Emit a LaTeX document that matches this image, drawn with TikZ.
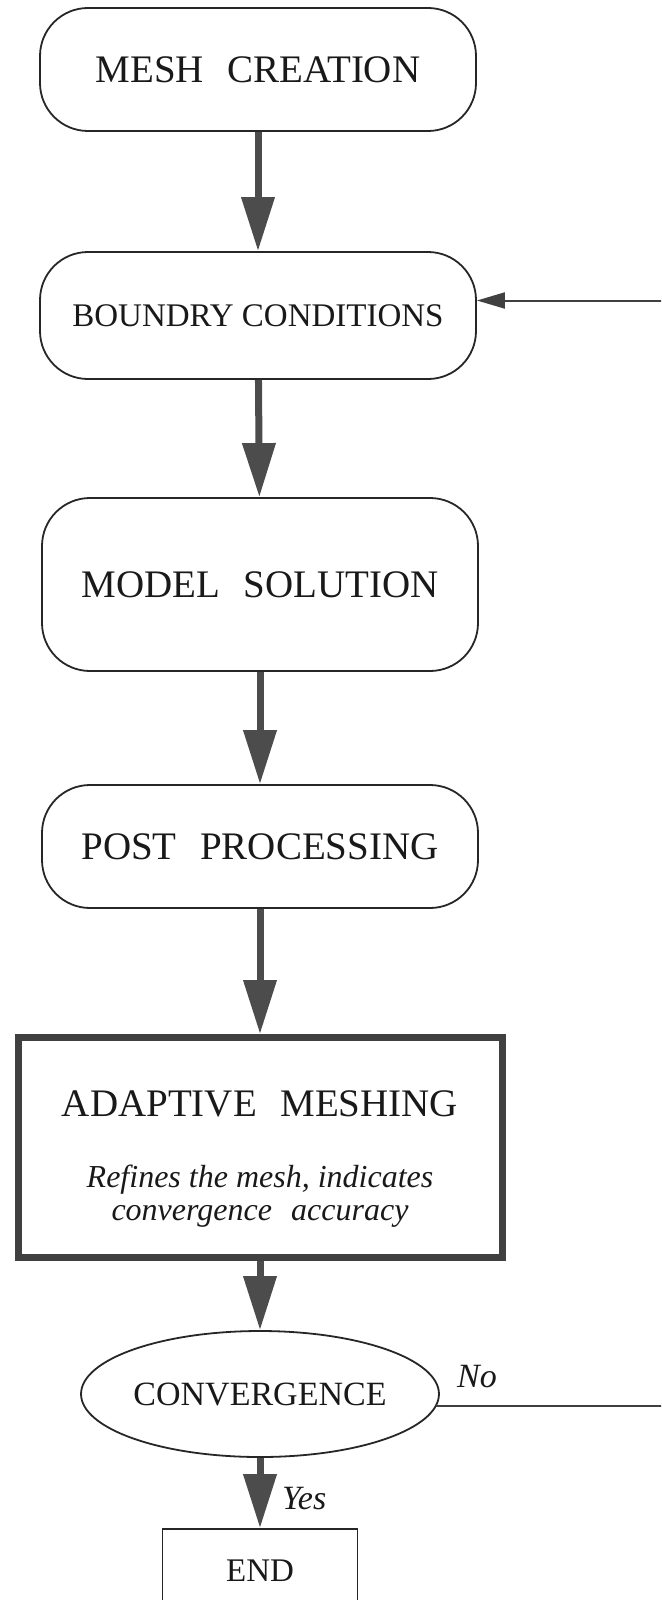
\documentclass[tikz,border=0pt]{standalone}
\usepackage{fontspec}
\setmainfont{Liberation Serif}
\usetikzlibrary{shapes,arrows.meta}
\newcommand{\capsbig}{\fontsize{19.5}{23}\selectfont}
\newcommand{\capssmall}{\fontsize{16.5}{20}\selectfont}
\newcommand{\notefont}{\fontsize{16}{16.5}\selectfont\itshape}
\newcommand{\wordgap}{\hspace{0.6em}}
\tikzstyle{block} = [rectangle, draw=black!85, line width=0.9pt, text=black!90,
    rounded corners=24pt, minimum width=218pt, text centered, inner sep=0pt]
\tikzstyle{bigblock} = [rectangle, draw=black!75, line width=3.5pt, text=black!90,
    minimum width=242pt, minimum height=110pt, align=center, inner sep=0pt]
\tikzstyle{decision} = [ellipse, draw=black!85, line width=0.9pt, text=black!90,
    minimum width=171pt, minimum height=63pt, inner sep=0pt]
\tikzstyle{terminal} = [rectangle, draw=black!85, line width=0.9pt, text=black!90,
    minimum width=97.5pt, minimum height=42pt]
\tikzstyle{line} = [draw, line width=3.5pt, black!70, -{Triangle[length=27pt,width=16pt]}]
\tikzstyle{feedback} = [draw, line width=1pt, black!75, -{Triangle[length=14pt,width=8pt]}]
\tikzstyle{answer} = [font=\fontsize{17}{20}\selectfont\itshape, text=black!90]

\begin{document}
\begin{tikzpicture}[x=0.5pt, y=-0.5pt]
    \path [use as bounding box] (0,0) rectangle (661,1600);
    \clip (0,0) rectangle (661,1600);
    % Place nodes
    \node [block, minimum height=61.5pt, font=\capsbig] (mesh) at (258,69.5) {MESH\wordgap CREATION};
    \node [block, minimum height=63.5pt, font=\capssmall, below of=mesh, node distance=123pt] (bc) {BOUNDRY CONDITIONS};
    \node [block, minimum height=86.5pt, font=\capsbig, below of=bc, node distance=134.5pt, xshift=1pt] (model) {MODEL\wordgap SOLUTION};
    \node [block, minimum height=61.5pt, font=\capsbig, below of=model, node distance=131pt] (post) {POST\wordgap PROCESSING};
    \node [bigblock, font=\notefont, below of=post, node distance=150.5pt] (adapt)
        {\rule{0pt}{24pt}{\capsbig\upshape ADAPTIVE\wordgap MESHING}\\[19pt]Refines the mesh, indicates\\convergence\wordgap accuracy};
    \node [decision, font=\fontsize{17}{20}\selectfont, below of=adapt, node distance=123.25pt] (conv) {CONVERGENCE};
    \node [terminal, font=\capssmall, below of=conv, node distance=88.5pt] (end) {END};
    % Draw edges
    \path [line] (mesh) -- (bc);
    \path [line] (bc) -- (model);
    \path [line] (model) -- (post);
    \path [line] (post) -- (adapt);
    \path [line] (adapt) -- (conv);
    \path [line] (conv) -- node [answer, right, xshift=6pt, yshift=-3pt] {Yes} (end);
    \path [feedback] (conv.-4) -- node [answer, above, pos=0.15, yshift=5.5pt] {No} ++(270,0) |- ([yshift=7.5pt]bc.east);
\end{tikzpicture}
\end{document}
